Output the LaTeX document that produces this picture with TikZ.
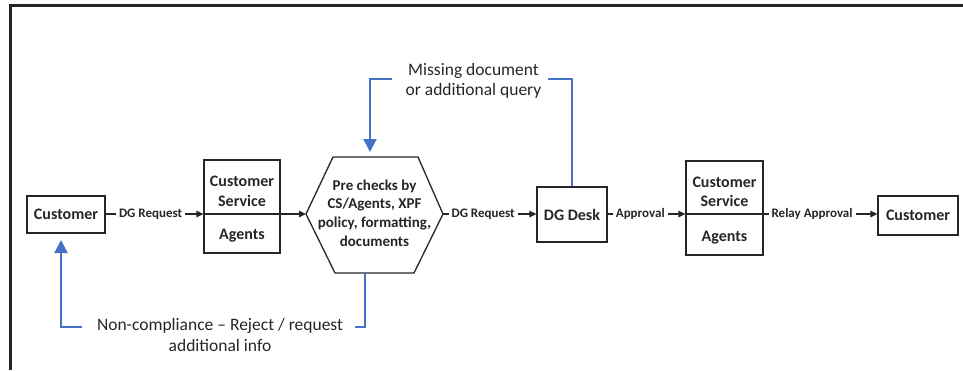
\documentclass[tikz,border=0pt]{standalone}
\usepackage{fontspec}
\setmainfont{Carlito}
\usetikzlibrary{arrows.meta}
\definecolor{fblue}{HTML}{4472C4}
\definecolor{ink}{HTML}{262626}
\tikzset{
  box/.style={draw=ink, line width=1.3pt, inner sep=0pt},
  boxtxt/.style={font=\bfseries\fontsize{16}{19.5}\selectfont, text=ink, align=center, inner sep=0pt},
  lbl/.style={font=\bfseries\fontsize{13}{15}\selectfont, text=ink, fill=white, inner xsep=3pt, inner ysep=1pt},
  flow/.style={draw=ink, line width=1.3pt, -{Triangle[length=7pt,width=6.5pt]}},
  fb/.style={draw=fblue, line width=2.2pt},
  fbarrow/.style={fb, -{Triangle[length=13pt,width=13pt]}},
  note/.style={font=\fontsize{17.5}{20.5}\selectfont, text=ink, align=center, inner sep=0pt},
}
\begin{document}
\begin{tikzpicture}[x=1pt,y=-1pt]
\useasboundingbox (0,0) rectangle (963,370);
% frame
\draw[ink, line width=2.5pt] (10.5,370) -- (10.5,5.5) -- (963,5.5);

% nodes
\node[box, minimum width=78pt, minimum height=37pt] (cust1) at (66,214.5) {};
\node[boxtxt] (cust1t) at (cust1.center) {Customer};

\node[box, minimum width=76pt, minimum height=93pt] (cs1) at (242,206.5) {};
\node[boxtxt] (cs1t) at (242,191.5) {Customer\\Service};
\node[boxtxt] (cs1b) at (242,236) {Agents};

% hexagon
\coordinate (hexW) at (306,214);
\coordinate (hexE) at (443,214);
\coordinate (hexT) at (370,157);
\coordinate (hexB) at (365,273);
\draw[ink, line width=1.3pt] (hexW) -- (333,157) -- (418,157) -- (hexE) -- (414,273) -- (335,273) -- cycle;
\node[boxtxt, font=\bfseries\fontsize{15}{18.8}\selectfont] (hex) at (374.5,213) {Pre checks by\\CS/Agents, XPF\\policy, formatting,\\documents};

\node[box, minimum width=70pt, minimum height=55pt] (dg) at (572,214.5) {};
\node[boxtxt] (dgt) at (dg.center) {DG Desk};

\node[box, minimum width=77pt, minimum height=94pt] (cs2) at (724.5,208) {};
\node[boxtxt] (cs2t) at (724.5,192) {Customer\\Service};
\node[boxtxt] (cs2b) at (724.5,237.5) {Agents};

\node[box, minimum width=80pt, minimum height=39pt] (cust2) at (918,215.5) {};
\node[boxtxt] (cust2t) at (cust2.center) {Customer};

% main flow
\draw[flow] (cust1.east |- 0,214) -- node[lbl, pos=0.46] {DG Request} (cs1.west |- 0,214);
\draw[flow] (cs1.west |- 0,214) -- (hexW);
\draw[flow] (hexE) -- node[lbl, pos=0.43] {DG Request} (dg.west |- 0,214);
\draw[flow] (dg.east |- 0,214) -- node[lbl, pos=0.42] {Approval} (cs2.west |- 0,214);
\draw[flow] (cs2.west |- 0,214) -- node[lbl, pos=0.66] {Relay Approval} (cust2.west |- 0,214);

% feedback: missing document
\node[note] (miss) at (473.5,81) {Missing document\\or additional query};
\coordinate (mR) at (548,79);
\coordinate (mL) at (392,79);
\draw[fb] (dg.north) |- (mR);
\draw[fbarrow, shorten >=5pt] (mL) -| (hexT);

% feedback: non-compliance
\node[note] (nonc) at (220,335) {Non-compliance – Reject / request\\additional info};
\coordinate (nR) at (355,327);
\coordinate (nL) at (82,327);
\coordinate (c1S) at (61,233);
\draw[fb] (hexB) |- (nR);
\draw[fbarrow, shorten >=7pt] (nL) -| (c1S);
\end{tikzpicture}
\end{document}
